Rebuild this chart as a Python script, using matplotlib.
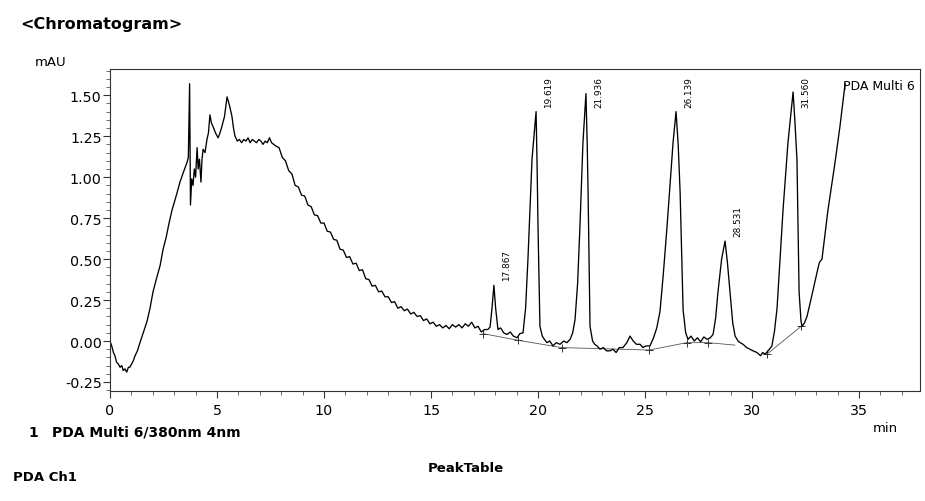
import matplotlib
matplotlib.use("Agg")
import matplotlib.pyplot as plt
from matplotlib.ticker import MultipleLocator, FormatStrFormatter

plt.rcParams['font.family'] = ['DejaVu Sans']
plt.rcParams['axes.unicode_minus'] = False

# ---- data (time in min, signal in mAU) ----
time_min = [
    0.00, 0.08, 0.16, 0.23, 0.31, 0.39, 0.47, 0.55, 0.62, 0.70, 0.78, 0.86, 0.93, 1.01, 1.09,
    1.17, 1.28, 1.40, 1.55, 1.73, 1.87, 2.01, 2.17, 2.34, 2.48, 2.62, 2.76, 2.90, 3.08, 3.27,
    3.43, 3.60, 3.66, 3.72, 3.76, 3.82, 3.88, 3.94, 4.00, 4.07, 4.12, 4.18, 4.25, 4.30, 4.35,
    4.44, 4.53, 4.60, 4.67, 4.74, 4.81, 4.93, 5.05, 5.14, 5.23, 5.35, 5.47, 5.58, 5.70, 5.77,
    5.84, 5.95, 6.05, 6.15, 6.25, 6.35, 6.45, 6.55, 6.65, 6.75, 6.85, 6.95, 7.05, 7.15, 7.25,
    7.35, 7.45, 7.55, 7.65, 7.75, 7.90, 8.05, 8.20, 8.35, 8.50, 8.65, 8.80, 8.95, 9.10, 9.25,
    9.40, 9.55, 9.70, 9.85, 10.00, 10.15, 10.30, 10.45, 10.60, 10.75, 10.90, 11.05, 11.20, 11.35, 11.50,
    11.65, 11.80, 11.95, 12.10, 12.25, 12.40, 12.55, 12.70, 12.85, 13.00, 13.15, 13.30, 13.45, 13.60, 13.75,
    13.90, 14.05, 14.20, 14.35, 14.50, 14.65, 14.80, 14.95, 15.10, 15.25, 15.40, 15.55, 15.70, 15.85, 16.00,
    16.15, 16.30, 16.45, 16.60, 16.75, 16.90, 17.05, 17.20, 17.35, 17.50, 17.65, 17.76, 17.85, 17.94, 18.02,
    18.13, 18.25, 18.40, 18.55, 18.70, 18.85, 19.02, 19.15, 19.30, 19.42, 19.53, 19.72, 19.91, 19.96, 20.00,
    20.09, 20.20, 20.30, 20.42, 20.55, 20.70, 20.85, 21.03, 21.20, 21.35, 21.50, 21.62, 21.73, 21.85, 21.96,
    22.10, 22.24, 22.30, 22.34, 22.43, 22.55, 22.65, 22.76, 22.90, 23.05, 23.20, 23.36, 23.50, 23.65, 23.80,
    23.97, 24.15, 24.30, 24.45, 24.60, 24.77, 24.90, 25.05, 25.23, 25.40, 25.55, 25.70, 25.85, 26.03, 26.31,
    26.45, 26.55, 26.64, 26.78, 26.90, 27.01, 27.15, 27.30, 27.45, 27.60, 27.75, 27.90, 28.05, 28.18, 28.30,
    28.41, 28.58, 28.74, 28.85, 28.97, 29.10, 29.21, 29.35, 29.45, 29.58, 29.75, 29.90, 30.05, 30.23, 30.40,
    30.50, 30.61, 30.75, 30.93, 31.05, 31.17, 31.45, 31.68, 31.92, 32.00, 32.10, 32.20, 32.29, 32.34, 32.45,
    32.57, 32.80, 33.04, 33.15, 33.27, 33.55, 33.88, 34.11, 34.35,
]
signal_mau = [
    0.00, -0.03, -0.07, -0.09, -0.13, -0.14, -0.16, -0.15, -0.18, -0.17, -0.19, -0.16, -0.16, -0.14, -0.12,
    -0.09, -0.06, -0.01, 0.05, 0.12, 0.20, 0.30, 0.38, 0.46, 0.56, 0.63, 0.72, 0.80, 0.88, 0.97,
    1.03, 1.09, 1.12, 1.57, 0.83, 0.99, 0.95, 1.05, 1.00, 1.18, 1.05, 1.11, 0.97, 1.11, 1.17,
    1.15, 1.23, 1.27, 1.38, 1.33, 1.31, 1.27, 1.24, 1.27, 1.31, 1.37, 1.49, 1.44, 1.37, 1.30,
    1.25, 1.22, 1.23, 1.21, 1.23, 1.22, 1.24, 1.21, 1.23, 1.22, 1.21, 1.23, 1.22, 1.20, 1.22,
    1.21, 1.24, 1.21, 1.20, 1.19, 1.18, 1.12, 1.10, 1.04, 1.02, 0.95, 0.94, 0.89, 0.885, 0.83,
    0.82, 0.77, 0.765, 0.72, 0.72, 0.67, 0.665, 0.62, 0.615, 0.56, 0.555, 0.51, 0.515, 0.47, 0.475,
    0.43, 0.435, 0.38, 0.375, 0.335, 0.34, 0.30, 0.305, 0.27, 0.27, 0.235, 0.24, 0.20, 0.21, 0.185,
    0.195, 0.165, 0.175, 0.15, 0.155, 0.125, 0.135, 0.105, 0.115, 0.09, 0.10, 0.08, 0.095, 0.075, 0.10,
    0.085, 0.10, 0.08, 0.105, 0.09, 0.115, 0.08, 0.09, 0.055, 0.07, 0.07, 0.085, 0.20, 0.34, 0.20,
    0.07, 0.08, 0.05, 0.04, 0.055, 0.03, 0.02, 0.045, 0.05, 0.20, 0.50, 1.11, 1.40, 1.05, 0.70,
    0.09, 0.03, 0.01, -0.01, 0.00, -0.03, -0.01, -0.02, 0.00, -0.01, 0.01, 0.05, 0.13, 0.35, 0.70,
    1.21, 1.51, 1.20, 0.91, 0.09, 0.00, -0.02, -0.03, -0.05, -0.04, -0.06, -0.06, -0.05, -0.07, -0.04,
    -0.04, -0.01, 0.03, 0.00, -0.02, -0.02, -0.04, -0.03, -0.03, 0.02, 0.08, 0.18, 0.40, 0.70, 1.21,
    1.40, 1.20, 0.91, 0.19, 0.05, 0.01, 0.03, 0.00, 0.02, -0.005, 0.025, 0.01, 0.02, 0.04, 0.14,
    0.30, 0.50, 0.61, 0.48, 0.30, 0.11, 0.03, 0.00, -0.01, -0.02, -0.04, -0.05, -0.06, -0.07, -0.09,
    -0.07, -0.08, -0.06, -0.03, 0.06, 0.20, 0.80, 1.21, 1.52, 1.35, 1.11, 0.30, 0.12, 0.09, 0.11,
    0.15, 0.28, 0.42, 0.48, 0.50, 0.80, 1.09, 1.31, 1.57,
]

# peak apexes as seen in the picture and their printed retention-time labels
peak_time = [17.94, 19.91, 22.24, 26.45, 28.74, 31.92]
peak_height = [0.34, 1.40, 1.51, 1.40, 0.61, 1.52]
peak_label = ["17.867", "19.619", "21.936", "26.139", "28.531", "31.560"]

# integration baseline segments (start/end points marked with +)
base_seg1_t = [17.43, 19.05, 21.10, 25.20, 26.95, 27.95, 29.20]
base_seg1_v = [0.045, 0.005, -0.04, -0.055, -0.01, -0.01, -0.025]
base_seg2_t = [30.70, 32.30]
base_seg2_v = [-0.08, 0.09]
base_mark_t = [17.43, 19.05, 21.10, 25.20, 26.95, 27.95, 30.70, 32.30]
base_mark_v = [0.045, 0.005, -0.04, -0.055, -0.01, -0.01, -0.08, 0.09]

# ---- figure ----
W, H = 925, 502
fig = plt.figure(figsize=(W / 100, H / 100), dpi=100)
ax_l, ax_r, ax_t, ax_b = 110, 920, 70, 392
ax = fig.add_axes([ax_l / W, 1 - ax_b / H, (ax_r - ax_l) / W, (ax_b - ax_t) / H])

ax.plot(base_seg1_t, base_seg1_v, color="#555555", lw=0.6)
ax.plot(base_seg2_t, base_seg2_v, color="#555555", lw=0.6)
ax.plot(base_mark_t, base_mark_v, ls="none", marker="+", ms=6, mew=0.7, color="#333333")
ax.plot(time_min, signal_mau, color="black", lw=0.95)

for t, h, lab in zip(peak_time, peak_height, peak_label):
    ax.text(t + 0.6, min(h + 0.03, 1.43), lab, rotation=90, ha="center", va="bottom",
            fontsize=6.4, color="black")

ax.set_xlim(0, 37.85)
ax.set_ylim(-0.305, 1.66)
ax.xaxis.set_major_locator(MultipleLocator(5))
ax.xaxis.set_minor_locator(MultipleLocator(1))
ax.yaxis.set_major_locator(MultipleLocator(0.25))
ax.yaxis.set_minor_locator(MultipleLocator(0.05))
ax.yaxis.set_major_formatter(FormatStrFormatter("%.2f"))
ax.tick_params(which="major", direction="out", length=5, width=0.8, labelsize=10.3, color="#333333")
ax.tick_params(axis="y", which="major", pad=1)
ax.tick_params(axis="x", which="major", pad=4)
ax.tick_params(which="minor", direction="out", length=3, width=0.6, color="#555555")
for s in ax.spines.values():
    s.set_linewidth(0.8)
    s.set_color("#333333")

# trace end label (only its visible part fits in the page)
ax.text(34.25, 1.56, "PDA Multi 6", fontsize=9, ha="left", va="center", clip_on=False)

# page texts
fig.text(20 / W, 1 - 25 / H, "<Chromatogram>", fontsize=11.5, fontweight="bold", ha="left", va="center")
fig.text(35 / W, 1 - 62 / H, "mAU", fontsize=9.5, ha="left", va="center")
fig.text(898 / W, 1 - 429 / H, "min", fontsize=9.5, ha="right", va="center")
fig.text(28 / W, 1 - 433 / H, "1", fontsize=10, fontweight="bold", ha="left", va="center")
fig.text(52 / W, 1 - 433 / H, "PDA Multi 6/380nm 4nm", fontsize=10, fontweight="bold", ha="left", va="center")
fig.text(13 / W, 1 - 478 / H, "PDA Ch1", fontsize=9.5, fontweight="bold", ha="left", va="center")
fig.text(428 / W, 1 - 469 / H, "PeakTable", fontsize=9.5, fontweight="bold", ha="left", va="center")

fig.savefig("out.png", dpi=100)
